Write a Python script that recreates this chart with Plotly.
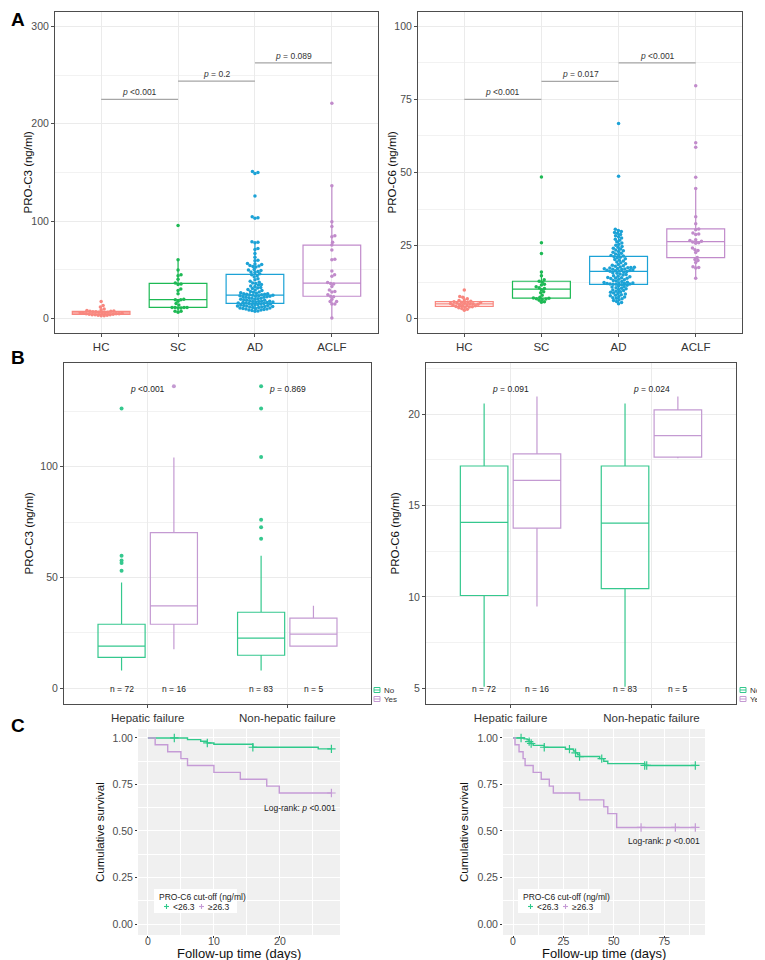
import numpy as np
import plotly.graph_objects as go

FONT = "Liberation Sans, Arial, sans-serif"
OFF = 8  # the page body adds an 8px margin, so layout positions are moved back by it

# ---------------- Panel A : PRO-C3 / PRO-C6 per group ----------------
groups = ["HC", "SC", "AD", "ACLF"]
group_colors = ["#F8877F", "#1DB954", "#1CA2D6", "#C18BCB"]

hc_c3 = [17.5, 13.5, 12, 10, 9, 8.5, 8, 7.5, 7.5, 7, 7, 6.5, 6.5, 6, 6, 6, 5.5, 5.5,
         5, 5, 5, 4.5, 4.5, 4, 4, 4, 3.5, 3.5, 3, 3]
sc_c3 = [95.5, 60.5, 50, 45, 44, 40.5, 36.5, 35.5, 35, 30.5, 29, 25.5, 20, 19.5, 19.5,
         18, 15.5, 14, 11.5, 11.5, 11.5, 11.5, 11, 11, 7.5, 7.5, 6.5]
ad_c3 = [151, 150, 149, 126, 104.5, 103.5, 103, 79, 78.5, 78, 72, 71, 67, 63, 60, 59.5,
         56.5, 56, 55.5, 54.5, 54, 53.5, 53, 50.5, 50, 49.5, 48.5, 48, 47.5, 46,
         45, 44, 43, 41, 40, 38.5, 37.5, 36.5, 36, 35, 34.5, 33.5, 33, 32, 31.5, 31,
         30, 29.5, 29, 28, 27.5, 27, 26.5, 26, 25.5, 25.5, 25, 25, 24.5, 24.5,
         24, 24, 23.5, 23.5, 23, 23, 22.5, 22.5, 22, 22, 21.5, 21, 21, 20.5, 20, 20,
         19.5, 19, 19, 18.5, 18, 18, 17.5, 17.5, 17, 17, 16.5, 16.5, 16, 16,
         15.5, 15.5, 15, 15, 14.5, 14.5, 14, 14, 13.5, 13.5, 13, 13, 12.5, 12.5, 12, 12,
         11.5, 11.5, 11, 11, 10.5, 10.5, 10, 10, 9.5, 9, 9, 8.5, 8, 7.5]
aclf_c3 = [221, 136.5, 99.5, 94.5, 85, 84, 78.5, 75.5, 70.5, 61, 60.5, 49, 45, 43.5, 37,
           36, 35.5, 33, 29.5, 28, 27.5, 24.5, 23, 22.5, 20, 17.5, 17.5, 15, 15, 0.7]

hc_c6 = [9.8, 7.6, 7.3, 6.8, 6.4, 6.2, 6, 5.8, 5.7, 5.6, 5.5, 5.4, 5.3, 5.2, 5.1, 5, 4.9,
         4.8, 4.7, 4.6, 4.5, 4.4, 4.2, 4.1, 4, 3.9, 3.7, 3.5, 3.2, 2.9]
sc_c6 = [48.5, 26, 22.3, 16, 14.7, 13.3, 12.8, 12.5, 11.8, 11.5, 10.9, 10.6, 10.3, 9.9,
         9.2, 8.9, 8, 7.3, 7.1, 7, 6.8, 6.7, 6.6, 6.3, 5.8, 5.6]
ad_c6 = [66.8, 48.7, 30.6, 30.2, 29.8, 29.5, 29.2, 28.8, 28.4, 28, 27.6, 27.2, 26.8, 26.3,
         25.9, 25.5, 25.1, 24.7, 24.4, 24.1, 23.8, 23.5, 23.2, 23, 22.7, 22.4, 22.1, 21.9,
         21.6, 21.4, 21.2, 21, 20.8, 20.5, 20.2, 20, 19.7, 19.4, 19.1, 18.8, 18.5, 18.3,
         18.1, 17.9, 17.7, 17.6, 17.5, 17.4, 17.3, 17.2, 17.1, 17, 16.9, 16.8, 16.7, 16.6,
         16.5, 16.4, 16.3, 16.2, 16.1, 15.9, 15.7, 15.5, 15.3, 15.1, 14.9, 14.7, 14.5,
         14.3, 14.1, 14, 13.9, 13.8, 13.7, 13.5, 13.3, 13.1, 12.9, 12.7, 12.5, 12.4, 12.3,
         12.2, 12.1, 12, 11.9, 11.9, 11.8, 11.8, 11.6, 11.4, 11.2, 11, 10.8, 10.6, 10.4,
         10.2, 10, 9.8, 9.6, 9.4, 9.2, 9, 8.8, 8.6, 8.4, 8.2, 8, 7.8, 7.6, 7.4, 7.2, 7,
         6.8, 6.5, 6.2, 5.9, 5.5, 5.1]
aclf_c6 = [79.7, 60.2, 58.6, 48.4, 44.5, 34.9, 32.5, 30.7, 30.4, 29.3, 29, 28.8, 27,
           26.7, 26.5, 26.2, 26, 25.8, 24.2, 23.6, 23.3, 22.6, 20.9, 20.2, 19.9, 19.2,
           17.8, 17.5, 17.3, 13.8]

# pairwise comparisons (neighbouring groups): bracket height and p-value
c3_bracket_y = [225, 243.7, 262.5]
c3_bracket_p = ["<0.001", "= 0.2", "= 0.089"]
c6_bracket_y = [75, 81.2, 87.5]
c6_bracket_p = ["<0.001", "= 0.017", "<0.001"]

# ---------------- Panel B : by cause of death ----------------
b_causes = ["Hepatic failure", "Non-hepatic failure"]
b_groups = ["No", "Yes"]
b_colors = ["#35C88E", "#C49AD2"]
b_stats = ["q1", "median", "q3", "lowerfence", "upperfence"]
b_n_no = [72, 83]
b_n_yes = [16, 5]

c3_no = [[13.9, 14.9], [19.0, 22.6], [28.9, 34.3], [8.0, 8.0], [47.7, 59.8]]
c3_yes = [[28.9, 19.0], [37.2, 24.4], [70.2, 31.7], [17.6, 19.0], [104.2, 37.2]]
c3_no_outliers = [[126.3, 59.8, 57.7, 56.5, 53.0], [136.3, 126.3, 104.4, 76.0, 72.7, 67.5]]
c3_yes_outliers = [[136.3], []]
c3_b_p = ["<0.001", "= 0.869"]
c3_b_p_y = 135.1

c6_no = [[10.08, 10.46], [14.08, 14.04], [17.17, 17.17], [5.09, 5.09], [20.59, 20.59]]
c6_yes = [[13.77, 17.66], [16.38, 18.83], [17.83, 20.24], [9.48, 17.59], [20.97, 20.97]]
c6_b_p = ["= 0.091", "= 0.024"]
c6_b_p_y = 21.39

# ---------------- Panel C : Kaplan-Meier ----------------
km_colors = ["#2FC98B", "#C59BD6"]
km_names = ["<26.3", "\u226526.3"]
km_legend_title = "PRO-C6 cut-off (ng/ml)"

kmL_low_t = [0, 6, 8, 9, 10, 15.9, 25.8, 27.8]
kmL_low_s = [1, 0.991, 0.982, 0.973, 0.966, 0.95, 0.941, 0.941]
kmL_low_cens = [4, 9, 15.9, 27.8]
kmL_high_t = [0, 1.1, 3, 5, 6, 10, 14, 18, 19.9, 27.8]
kmL_high_s = [1, 0.963, 0.926, 0.889, 0.852, 0.815, 0.778, 0.741, 0.704, 0.704]
kmL_high_cens = [27.8]

kmR_low_t = [0, 5.5, 7, 8, 9, 10, 15.5, 26, 30, 31, 32, 33, 43, 45, 47, 65.3, 90.4]
kmR_low_s = [1, 0.995, 0.99, 0.98, 0.97, 0.96, 0.95, 0.94, 0.93, 0.92, 0.91, 0.90,
             0.889, 0.875, 0.862, 0.852, 0.852]
kmR_low_cens = [4, 8, 9, 15.5, 28, 31, 33, 44, 65.3, 66.3, 90.4]
kmR_high_t = [0, 1, 3, 5, 6, 10, 14, 18, 20, 33, 45, 47, 51.4, 90.4]
kmR_high_s = [1, 0.963, 0.926, 0.889, 0.852, 0.815, 0.778, 0.741, 0.704, 0.667, 0.630,
              0.593, 0.519, 0.519]
kmR_high_cens = [63.5, 80.5, 90.4]


def swarm_offsets(vals, px_y, px_x, d=3.0):
    # simple beeswarm: put every point at the nearest free horizontal spot
    vals = np.asarray(vals, float)
    xs = np.zeros(len(vals))
    placed = []
    steps = np.arange(0.25, 40, 0.25)
    cands = [0.0] + [s * sg for s in steps for sg in (1, -1)]
    for i in np.argsort(vals):
        y = vals[i] * px_y
        near = [(qx, qy) for qx, qy in placed if abs(qy - y) < d]
        for c in cands:
            if all((c - qx) ** 2 + (y - qy) ** 2 >= d * d for qx, qy in near):
                break
        placed.append((c, y))
        xs[i] = c / px_x
    return xs


def step_value(t, s, x):
    t = np.asarray(t)
    return s[int(np.searchsorted(t, x, side="right")) - 1]


def px(x):
    return (x - OFF) / 765


def py(y):
    return 1 - (y - OFF) / 960


def xdom(a, b):
    return [px(a), px(b)]


def ydom(top, bottom):
    return [py(bottom), py(top)]


def note(text, x, y, xref="paper", yref="paper", xanchor="center", size=8.5, **kw):
    fig.add_annotation(text=text, x=x, y=y, xref=xref, yref=yref, xanchor=xanchor,
                       yanchor="middle", showarrow=False,
                       font=dict(family=FONT, size=size, color=kw.pop("color", "#222222")), **kw)


fig = go.Figure()

# ---- A ----
panel_a = [("x", "y", [hc_c3, sc_c3, ad_c3, aclf_c3], 0.977, c3_bracket_y, c3_bracket_p),
           ("x2", "y2", [hc_c6, sc_c6, ad_c6, aclf_c6], 2.93, c6_bracket_y, c6_bracket_p)]
for xa, ya, series, ppu, by, bp in panel_a:
    for i, (vals, col) in enumerate(zip(series, group_colors)):
        fig.add_trace(go.Box(
            x=[i] * len(vals), y=vals, width=0.75, whiskerwidth=0,
            line=dict(color=col, width=1.2), fillcolor="rgba(255,255,255,0)",
            boxpoints="outliers", marker=dict(opacity=0),
            xaxis=xa, yaxis=ya, showlegend=False, hoverinfo="skip"))
        fig.add_trace(go.Scatter(
            x=i + swarm_offsets(vals, ppu, 77), y=vals, mode="markers",
            marker=dict(color=col, size=3.5, line=dict(width=0)),
            xaxis=xa, yaxis=ya, showlegend=False, name=groups[i]))
    for j, (yv, p) in enumerate(zip(by, bp)):
        fig.add_trace(go.Scatter(
            x=[j, j + 1], y=[yv, yv], mode="lines",
            line=dict(color="#A6A6A6", width=1.3),
            xaxis=xa, yaxis=ya, showlegend=False, hoverinfo="skip"))
        note(f"<i>p</i> {p}", j + 0.5, yv, xref=xa, yref=ya, yshift=7, color="#333333")

# ---- B ----
dodge = 0.1875
panel_b = [("x3", "y3", c3_no, c3_yes, c3_no_outliers, c3_yes_outliers, c3_b_p, c3_b_p_y),
           ("x4", "y4", c6_no, c6_yes, [[], []], [[], []], c6_b_p, c6_b_p_y)]
for xa, ya, s_no, s_yes, o_no, o_yes, pv, pyv in panel_b:
    for k, (stats, outs, col, sign, ns) in enumerate(
            [(s_no, o_no, b_colors[0], -1, b_n_no), (s_yes, o_yes, b_colors[1], 1, b_n_yes)]):
        pos = [c + sign * dodge for c in range(len(b_causes))]
        kw = {name: vals for name, vals in zip(b_stats, stats)}
        fig.add_trace(go.Box(
            x=pos, width=0.3375, whiskerwidth=0, boxpoints=False,
            line=dict(color=col, width=1.2), fillcolor="rgba(255,255,255,0)",
            xaxis=xa, yaxis=ya, showlegend=False, name=b_groups[k], hoverinfo="skip", **kw))
        for c, ov in enumerate(outs):
            if ov:
                fig.add_trace(go.Scatter(
                    x=[pos[c]] * len(ov), y=ov, mode="markers",
                    marker=dict(color=col, size=4), xaxis=xa, yaxis=ya, showlegend=False))
        for c, n in enumerate(ns):
            note(f"n = {n}", pos[c], 0.045, xref=xa, yref=ya + " domain")
    for c, p in enumerate(pv):
        note(f"<i>p</i> {p}", c, pyv, xref=xa, yref=ya)

# B legends (No / Yes), drawn beside each panel
for lx in (374, 740):
    for k, cy in enumerate((690, 699)):
        col = b_colors[k]
        fig.add_shape(type="rect", xref="paper", yref="paper",
                      x0=px(lx), x1=px(lx + 6), y0=py(cy + 2.5), y1=py(cy - 2.5),
                      line=dict(color=col, width=1))
        fig.add_shape(type="line", xref="paper", yref="paper",
                      x0=px(lx), x1=px(lx + 6), y0=py(cy), y1=py(cy),
                      line=dict(color=col, width=1))
        note(b_groups[k], px(lx + 8), py(cy), xanchor="left", size=8, color="#333333")

# ---- C ----
panel_c = [("x5", "y5", [(kmL_low_t, kmL_low_s, kmL_low_cens), (kmL_high_t, kmL_high_s, kmL_high_cens)]),
           ("x6", "y6", [(kmR_low_t, kmR_low_s, kmR_low_cens), (kmR_high_t, kmR_high_s, kmR_high_cens)])]
for xa, ya, curves in panel_c:
    for k, (t, s, cens) in enumerate(curves):
        col = km_colors[k]
        fig.add_trace(go.Scatter(x=t, y=s, mode="lines", line=dict(shape="hv", color=col, width=1.4),
                                 xaxis=xa, yaxis=ya, showlegend=False, hoverinfo="skip"))
        fig.add_trace(go.Scatter(
            x=cens, y=[step_value(t, s, c) for c in cens], mode="markers",
            marker=dict(symbol="cross-thin", size=6, line=dict(color=col, width=1.2)),
            xaxis=xa, yaxis=ya, name=km_names[k], showlegend=False))
    fig.add_shape(type="rect", xref=xa + " domain", yref=ya + " domain",
                  x0=0, x1=1, y0=0, y1=1, fillcolor="#F0F0F0", line=dict(width=0), layer="below")

# C legends: white box, title, "+" keys
for lx in (154, 518):
    fig.add_shape(type="rect", xref="paper", yref="paper", x0=px(lx), x1=px(lx + 83),
                  y0=py(913), y1=py(889), fillcolor="white", line=dict(width=0))
    note(km_legend_title, px(lx + 2.5), py(896.5), xanchor="left")
    for k, ox in enumerate((12.5, 47.5)):
        col = km_colors[k]
        cx, cy = lx + ox, 906.5
        fig.add_shape(type="line", xref="paper", yref="paper", x0=px(cx - 2.5), x1=px(cx + 2.5),
                      y0=py(cy), y1=py(cy), line=dict(color=col, width=1.1))
        fig.add_shape(type="line", xref="paper", yref="paper", x0=px(cx), x1=px(cx),
                      y0=py(cy - 2.5), y1=py(cy + 2.5), line=dict(color=col, width=1.1))
        note(km_names[k], px(cx + 4.5), py(cy), xanchor="left")

note("Log-rank: <i>p</i> <0.001", 23, 0.624, xref="x5", yref="y5")
note("Log-rank: <i>p</i> <0.001", 74.9, 0.446, xref="x6", yref="y6")

# axis titles placed by hand, as in the original layout
y_titles = [("y", 27, "PRO-C3 (ng/ml)"), ("y2", 391, "PRO-C6 (ng/ml)"),
            ("y3", 28, "PRO-C3 (ng/ml)"), ("y4", 394, "PRO-C6 (ng/ml)"),
            ("y5", 100, "Cumulative survival"), ("y6", 464, "Cumulative survival")]
for ya, tx, txt in y_titles:
    note(txt, px(tx), 0.5, yref=ya + " domain", size=11.5, color="#111111", textangle=-90)
for xa in ("x5", "x6"):
    note("Follow-up time (days)", 0.5, py(953), xref=xa + " domain", size=13, color="#111111")

# panel letters (kept inside the drawing area)
for letter, ly in (("A", 19), ("B", 358), ("C", 725)):
    note(f"<b>{letter}</b>", px(OFF + 1), py(ly), xanchor="left", size=19, color="#000000")


def boxed_axis(domain, anchor, **kw):
    ax = dict(domain=domain, anchor=anchor, showline=True, mirror=True, linecolor="#4D4D4D",
              linewidth=1, ticks="outside", ticklen=3, tickwidth=1, tickcolor="#4D4D4D",
              showgrid=True, gridcolor="#EBEBEB", gridwidth=1, zeroline=False,
              tickfont=dict(family=FONT, size=10.5, color="#4D4D4D"))
    ax.update(kw)
    return ax


def km_axis(domain, anchor, **kw):
    ax = dict(domain=domain, anchor=anchor, showline=False, ticks="outside", ticklen=2,
              tickwidth=1, tickcolor="#333333", showgrid=True, gridcolor="#FFFFFF",
              gridwidth=1.1, zeroline=False,
              tickfont=dict(family=FONT, size=10.5, color="#4D4D4D"))
    ax.update(kw)
    return ax


minor_grid = dict(showgrid=True, gridcolor="#F2F2F2", gridwidth=1, ticks="")
km_minor = dict(showgrid=True, gridcolor="#FFFFFF", gridwidth=0.6, ticks="")
cat_font = dict(family=FONT, size=11.5, color="#333333")
km_yt = [0, 0.25, 0.5, 0.75, 1]

fig.update_layout(
    width=765, height=960, margin=dict(l=0, r=0, t=0, b=0),
    paper_bgcolor="white", plot_bgcolor="white", boxmode="overlay",
    font=dict(family=FONT),
    xaxis=boxed_axis(xdom(55, 378), "y", range=[-0.6, 3.6], tickvals=list(range(4)),
                     ticktext=groups, tickfont=cat_font),
    yaxis=boxed_axis(ydom(12, 333), "x", range=[-14.7, 314.7], tickvals=[0, 100, 200, 300],
                     minor=dict(dtick=50, tick0=0, **minor_grid)),
    xaxis2=boxed_axis(xdom(418, 742), "y2", range=[-0.6, 3.6], tickvals=list(range(4)),
                      ticktext=groups, tickfont=cat_font),
    yaxis2=boxed_axis(ydom(12, 333), "x2", range=[-4.9, 104.9], tickvals=[0, 25, 50, 75, 100],
                      minor=dict(dtick=12.5, tick0=0, **minor_grid)),
    xaxis3=boxed_axis(xdom(64, 371), "y3", range=[-0.6, 1.6], tickvals=[0, 1],
                      ticktext=b_causes, tickfont=cat_font),
    yaxis3=boxed_axis(ydom(363, 704), "x3", range=[-7.1, 146.8], tickvals=[0, 50, 100],
                      minor=dict(dtick=25, tick0=0, **minor_grid)),
    xaxis4=boxed_axis(xdom(426, 736), "y4", range=[-0.6, 1.6], tickvals=[0, 1],
                      ticktext=b_causes, tickfont=cat_font),
    yaxis4=boxed_axis(ydom(363, 704), "x4", range=[4.14, 22.81], tickvals=[5, 10, 15, 20],
                      minor=dict(dtick=2.5, tick0=0, **minor_grid)),
    xaxis5=km_axis(xdom(138, 340), "y5", range=[-1.5, 29.1], tickvals=[0, 10, 20],
                   ticklabelstandoff=-6, minor=dict(dtick=5, tick0=0, **km_minor)),
    yaxis5=km_axis(ydom(729, 935), "x5", range=[-0.059, 1.048], tickvals=km_yt,
                   ticktext=[f"{v:.2f}" for v in km_yt],
                   minor=dict(dtick=0.125, tick0=0, **km_minor)),
    xaxis6=km_axis(xdom(503, 705), "y6", range=[-4.96, 95.2], tickvals=[0, 25, 50, 75],
                   ticklabelstandoff=-6, minor=dict(dtick=12.5, tick0=0, **km_minor)),
    yaxis6=km_axis(ydom(729, 935), "x6", range=[-0.059, 1.048], tickvals=km_yt,
                   ticktext=[f"{v:.2f}" for v in km_yt],
                   minor=dict(dtick=0.125, tick0=0, **km_minor)),
)

fig.write_html("out.html")
